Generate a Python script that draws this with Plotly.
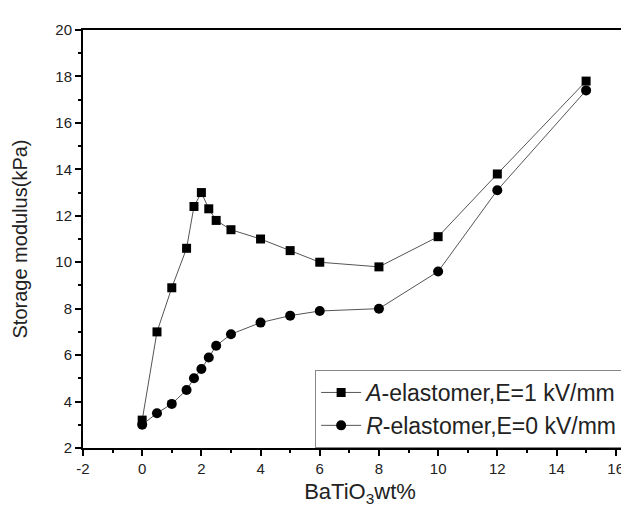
import plotly.graph_objects as go

x_vals = [0, 0.5, 1, 1.5, 1.75, 2, 2.25, 2.5, 3, 4, 5, 6, 8, 10, 12, 15]
a_elastomer = [3.2, 7.0, 8.9, 10.6, 12.4, 13.0, 12.3, 11.8, 11.4, 11.0, 10.5, 10.0, 9.8, 11.1, 13.8, 17.8]
r_elastomer = [3.0, 3.5, 3.9, 4.5, 5.0, 5.4, 5.9, 6.4, 6.9, 7.4, 7.7, 7.9, 8.0, 9.6, 13.1, 17.4]
names = ["<i>A</i>-elastomer,E=1 kV/mm", "<i>R</i>-elastomer,E=0 kV/mm"]
x_tick_vals = [-2, 0, 2, 4, 6, 8, 10, 12, 14, 16]
x_tick_labels = ["-2", "0", "2", "4", "6", "8", "10", "12", "14", "16"]
y_tick_vals = [2, 4, 6, 8, 10, 12, 14, 16, 18, 20]
y_tick_labels = ["2", "4", "6", "8", "10", "12", "14", "16", "18", "20"]

fig = go.Figure()
fig.add_trace(go.Scatter(x=x_vals, y=a_elastomer, mode="lines+markers", name=names[0],
                         line=dict(color="#555555", width=1),
                         marker=dict(symbol="square", size=9, color="black")))
fig.add_trace(go.Scatter(x=x_vals, y=r_elastomer, mode="lines+markers", name=names[1],
                         line=dict(color="#555555", width=1),
                         marker=dict(symbol="circle", size=10, color="black")))

axis_common = dict(showgrid=False, zeroline=False, showline=True, linecolor="black", linewidth=2,
                   ticks="outside", ticklen=6, tickwidth=1.5, tickcolor="black",
                   tickfont=dict(size=15, color="#222222"))
fig.update_xaxes(range=[-2, 16.72], tickvals=x_tick_vals, ticktext=x_tick_labels, mirror=True,
                 minor=dict(ticks="outside", ticklen=3, dtick=1, tick0=0, tickcolor="black", tickwidth=1.5),
                 title=dict(text="BaTiO<sub>3</sub>wt%", font=dict(size=22, color="#222222"), standoff=8),
                 **axis_common)
fig.update_yaxes(range=[2, 20], tickvals=y_tick_vals, ticktext=y_tick_labels,
                 minor=dict(ticks="outside", ticklen=3, dtick=1, tick0=0, tickcolor="black", tickwidth=1.5),
                 title=dict(text="Storage modulus(kPa)", font=dict(size=20, color="#222222"), standoff=22),
                 **axis_common)

fig.update_layout(
    width=629, height=507,
    margin=dict(l=75, r=0, t=22, b=67),
    paper_bgcolor="white", plot_bgcolor="white",
    font=dict(family="Liberation Sans, Arial, sans-serif", color="#222222"),
    showlegend=True,
    legend=dict(x=0.419, y=0, xanchor="left", yanchor="bottom",
                bordercolor="#888888", borderwidth=1, bgcolor="white",
                font=dict(size=23, color="#222222"), itemwidth=40, tracegroupgap=0),
)
fig.write_html("out.html")
